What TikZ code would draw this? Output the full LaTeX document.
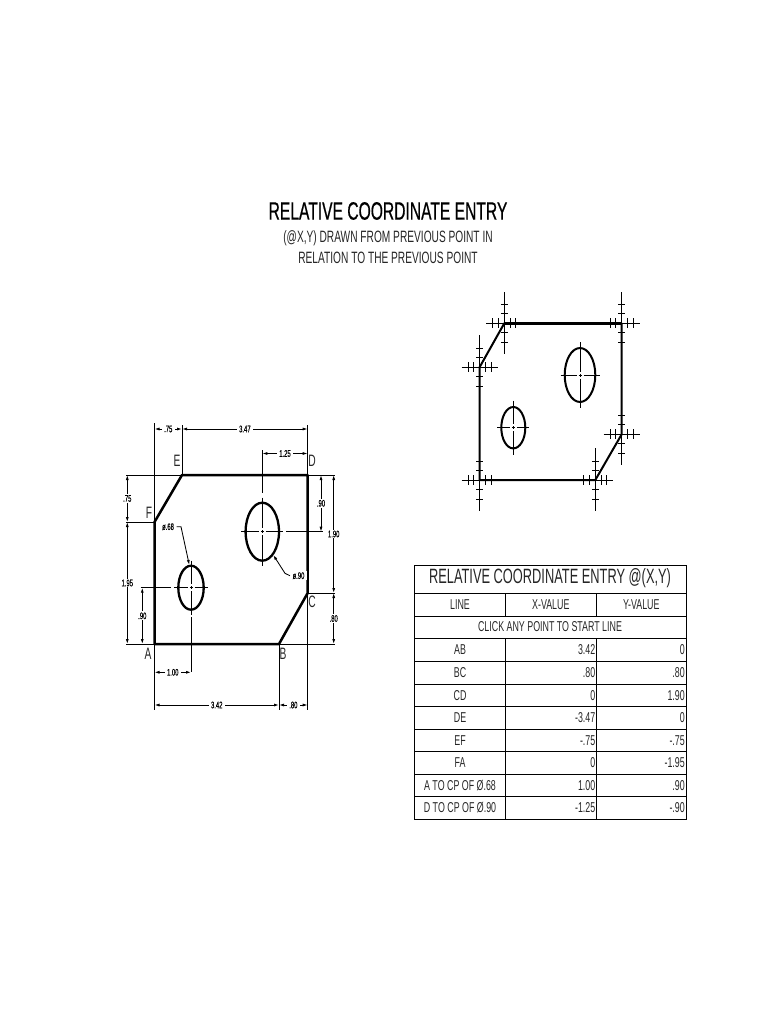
\documentclass[tikz,border=0pt]{standalone}
\usepackage{fontspec}
\setmainfont[FakeStretch=0.62]{Liberation Sans}
\newfontfamily\titlefont[FakeStretch=0.62,FakeBold=0.5]{Liberation Sans}
\newfontfamily\dimfont[FakeStretch=0.62,FakeBold=0.4]{Liberation Sans}
\usepackage{tikz}
\usetikzlibrary{arrows.meta}
\tikzset{
  outline/.style={black, line width=2.5pt, line join=round},
  hole/.style={black, line width=2.3pt},
  thinline/.style={black, line width=0.85pt},
  dimline/.style={black, line width=0.85pt, {Latex[length=5pt,width=3pt]}-{Latex[length=5pt,width=3pt]}},
  leader/.style={black, line width=0.85pt, -{Latex[length=5pt,width=3pt]}},
  dimtext/.style={fill=white, inner xsep=2.5pt, inner ysep=1pt, font=\dimfont\fontsize{9.5}{9.5}\selectfont},
  pointlabel/.style={inner sep=0pt, text=black!85, font=\fontsize{16.5}{16.5}\selectfont},
  tabline/.style={black, line width=0.9pt},
  cell/.style={inner sep=0pt, text=black!85, font=\fontsize{14.3}{14.3}\selectfont},
  valcell/.style={cell, anchor=east}
}
% crosshair with ticks: point, left, right, up, down
\newcommand{\vtxmark}[5]{
\begin{scope}[shift={(#1)}, thinline]
\draw (#2,0) -- (#3,0);
\draw (0,#4) -- (0,#5);
\draw (-11.5,-5) -- (-11.5,5);
\draw (-6,-5) -- (-6,5);
\draw (6,-5) -- (6,5);
\draw (11.5,-5) -- (11.5,5);
\draw (-3.5,-19) -- (3.5,-19);
\draw (-3.5,-9.5) -- (3.5,-9.5);
\draw (-3.5,9.5) -- (3.5,9.5);
\draw (-3.5,19) -- (3.5,19);
\end{scope}
}
% broken centre lines of a hole: centre, half width, half height
\newcommand{\ctrmark}[3]{
\begin{scope}[shift={(#1)}, thinline]
\draw (-#2,0) -- (-3.5,0);
\draw (-1.5,0) -- (1.5,0);
\draw (3.5,0) -- (#2,0);
\draw (0,-#3) -- (0,-3.5);
\draw (0,-1.5) -- (0,1.5);
\draw (0,3.5) -- (0,#3);
\end{scope}
}
\begin{document}
\begin{tikzpicture}[x=1pt, y=-1pt]
\useasboundingbox (0,0) rectangle (768,1024);

% heading
\node[inner sep=0pt, text=black, font=\titlefont\fontsize{25.2}{25.2}\selectfont] (title) at (388,211) {RELATIVE COORDINATE ENTRY};
\node[cell, font=\fontsize{16.4}{16.4}\selectfont] (subone) at (388,238) {(@X,Y) DRAWN FROM PREVIOUS POINT IN};
\node[cell, font=\fontsize{16.4}{16.4}\selectfont] (subtwo) at (388,258) {RELATION TO THE PREVIOUS POINT};

% left drawing
\coordinate (A) at (154.5,644);
\coordinate (B) at (279,644);
\coordinate (C) at (307.7,593);
\coordinate (D) at (307.7,475);
\coordinate (E) at (182,475);
\coordinate (F) at (154.5,522);
\coordinate (bigcp) at (262.3,531.7);
\coordinate (smallcp) at (191,587.7);

\draw[thinline] (A |- 0,423) -- (F);
\draw[thinline] (A) -- (A |- 0,710);
\draw[thinline] (E |- 0,425) -- (E);
\draw[thinline] (D |- 0,425) -- (D);
\draw[thinline] (C) -- (C |- 0,710);
\draw[thinline] (B) -- (B |- 0,710);
\draw[thinline] (126,475) -- (E);
\draw[thinline] (D) -- (335,475);
\draw[thinline] (126,522) -- (F);
\draw[thinline] (126,644) -- (A);
\draw[thinline] (B) -- (335,644);
\draw[thinline] (C) -- (335,593);
\draw[thinline] (140.7,587.7) -- (171,587.7);
\draw[thinline] (286,531.7) -- (323,531.7);
\draw[thinline] (262.3,450) -- (262.3,493);
\draw[thinline] (191,617) -- (191,672);

\draw[outline] (A) -- (B) -- (C) -- (D) -- (E) -- (F) -- cycle;
\draw[hole] (bigcp) ellipse [x radius=16.7, y radius=29];
\draw[hole] (smallcp) ellipse [x radius=12.7, y radius=22];
\ctrmark{bigcp}{21}{34}
\ctrmark{smallcp}{17}{27}

\draw[dimline] (154.5,429) -- node[dimtext] (dimEF) {.75} (182,429);
\draw[dimline] (182,429) -- node[dimtext] (dimDE) {3.47} (307.7,429);
\draw[dimline] (262.3,453.5) -- node[dimtext] (dimDcp) {1.25} (307.7,453.5);
\draw[dimline] (321,475) -- node[dimtext] (dimDcpy) {.90} (321,531.7);
\draw[dimline] (333.7,475) -- node[dimtext] (dimCD) {1.90} (333.7,593);
\draw[dimline] (333.7,593) -- node[dimtext] (dimBC) {.80} (333.7,644);
\draw[dimline] (127.3,475) -- node[dimtext] (dimFE) {.75} (127.3,522);
\draw[dimline] (127.3,522) -- node[dimtext] (dimFA) {1.95} (127.3,644);
\draw[dimline] (142.3,587.7) -- node[dimtext] (dimAcpy) {.90} (142.3,644);
\draw[dimline] (154.5,672.3) -- node[dimtext] (dimAcp) {1.00} (191,672.3);
\draw[dimline] (154.5,705) -- node[dimtext] (dimAB) {3.42} (279,705);
\draw[dimline] (279,705) -- node[dimtext] (dimBCx) {.80} (307.7,705);

\node[dimtext] (smalldia) at (168,526.7) {ø.68};
\node[dimtext] (bigdia) at (298.5,575.7) {ø.90};
\draw[leader] (smalldia.east) -- (181,526.7) -- (189.3,565);
\draw[leader] (bigdia.west) -- (285,573.3) -- (273.3,555);

\node[pointlabel] (labA) at (148,654) {A};
\node[pointlabel] (labB) at (283,654) {B};
\node[pointlabel] (labC) at (312,602) {C};
\node[pointlabel] (labD) at (312,461) {D};
\node[pointlabel] (labE) at (177,461) {E};
\node[pointlabel] (labF) at (149,513) {F};

% right drawing
\coordinate (Ap) at (479.7,480);
\coordinate (Bp) at (595.3,480);
\coordinate (Cp) at (621.7,434.3);
\coordinate (Dp) at (621.7,323.3);
\coordinate (Ep) at (504.3,323.3);
\coordinate (Fp) at (479.7,367);
\coordinate (bigpcp) at (580,375);
\coordinate (smallpcp) at (513.3,427.7);

\draw[outline, line width=2pt] (Ap) -- (Bp) -- (Cp) -- (Dp) -- (Ep) -- (Fp) -- cycle;
\draw[outline, line width=3pt] (Ep) -- (Dp);
\draw[hole, line width=2pt] (bigpcp) ellipse [x radius=15.3, y radius=27];
\draw[hole, line width=2pt] (smallpcp) ellipse [x radius=12, y radius=20.7];
\ctrmark{bigpcp}{19.5}{33}
\ctrmark{smallpcp}{16}{27}
\vtxmark{Ap}{-18}{12}{-20}{31}
\vtxmark{Bp}{-12}{18}{-32}{31}
\vtxmark{Cp}{-18}{18}{-19}{31}
\vtxmark{Dp}{-12}{18}{-31}{19}
\vtxmark{Ep}{-18}{12}{-31}{31}
\vtxmark{Fp}{-18}{18}{-32}{20}

% table
\draw[tabline] (414.3,565) rectangle (686,819.3);
\draw[tabline] (414.3,593.3) -- (686,593.3);
\draw[tabline] (414.3,616) -- (686,616);
\draw[tabline] (414.3,638.3) -- (686,638.3);
\draw[tabline] (414.3,661.7) -- (686,661.7);
\draw[tabline] (414.3,684.3) -- (686,684.3);
\draw[tabline] (414.3,706.7) -- (686,706.7);
\draw[tabline] (414.3,729.3) -- (686,729.3);
\draw[tabline] (414.3,751.7) -- (686,751.7);
\draw[tabline] (414.3,774) -- (686,774);
\draw[tabline] (414.3,796.7) -- (686,796.7);
\draw[tabline] (505,593.3) -- (505,616);
\draw[tabline] (596.7,593.3) -- (596.7,616);
\draw[tabline] (505,638.3) -- (505,819.3);
\draw[tabline] (596.7,638.3) -- (596.7,819.3);

\node[cell, font=\fontsize{20.7}{20.7}\selectfont] (tabtitle) at (550,578.5) {RELATIVE COORDINATE ENTRY @(X,Y)};
\node[cell] (headline) at (460,605) {LINE};
\node[cell] (headx) at (550.8,605) {X-VALUE};
\node[cell] (heady) at (641.3,605) {Y-VALUE};
\node[cell] (clickrow) at (550,627) {CLICK ANY POINT TO START LINE};

\node[cell] (AB) at (460,650) {AB};
\node[valcell] (ABx) at (595.5,650) {3.42};
\node[valcell] (ABy) at (685,650) {0};
\node[cell] (BC) at (460,673) {BC};
\node[valcell] (BCx) at (595.5,673) {.80};
\node[valcell] (BCy) at (685,673) {.80};
\node[cell] (CD) at (460,695.5) {CD};
\node[valcell] (CDx) at (595.5,695.5) {0};
\node[valcell] (CDy) at (685,695.5) {1.90};
\node[cell] (DE) at (460,718) {DE};
\node[valcell] (DEx) at (595.5,718) {-3.47};
\node[valcell] (DEy) at (685,718) {0};
\node[cell] (EF) at (460,740.5) {EF};
\node[valcell] (EFx) at (595.5,740.5) {-.75};
\node[valcell] (EFy) at (685,740.5) {-.75};
\node[cell] (FA) at (460,763) {FA};
\node[valcell] (FAx) at (595.5,763) {0};
\node[valcell] (FAy) at (685,763) {-1.95};
\node[cell] (Acp) at (460,785.5) {A TO CP OF Ø.68};
\node[valcell] (Acpx) at (595.5,785.5) {1.00};
\node[valcell] (Acpy) at (685,785.5) {.90};
\node[cell] (Dcp) at (460,808) {D TO CP OF Ø.90};
\node[valcell] (Dcpx) at (595.5,808) {-1.25};
\node[valcell] (Dcpy) at (685,808) {-.90};
\end{tikzpicture}
\end{document}
